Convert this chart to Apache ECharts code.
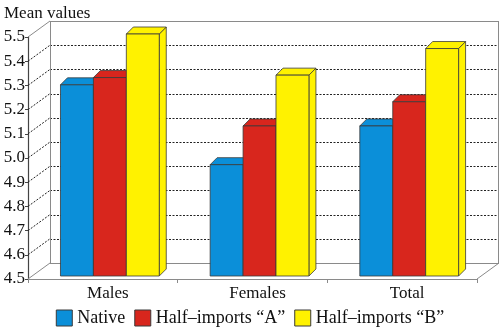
<!DOCTYPE html>
<html>
<head>
<meta charset="utf-8">
<script src="https://cdn.jsdelivr.net/npm/echarts@6/dist/echarts.min.js"></script>
<style>
  html, body { margin: 0; padding: 0; background: #fff; }
  #chart { width: 500px; height: 332px; }
</style>
</head>
<body>
<div id="chart"></div>
<script>
// Mean values by group
const categories = ['Males', 'Females', 'Total'];
const seriesNames = ['Native', 'Half\u2013imports \u201CA\u201D', 'Half\u2013imports \u201CB\u201D'];
const nativeValues = [5.29, 4.96, 5.12];
const halfAValues = [5.32, 5.12, 5.22];
const halfBValues = [5.50, 5.33, 5.44];
const yMin = 4.5;
const yMax = 5.5;
const yStep = 0.1;

const colors = ['#0b8fd9', '#d8261d', '#fff200'];
const FONT = '"Liberation Serif", "DejaVu Serif", serif';
const TEXT = '#111';

// oblique offsets of the 3D look (pixels)
const WALL_DX = 22, WALL_DY = -16;   // back wall behind front plane
const BAR_DD = 7;                    // bar depth
const BAR_LIFT = -3;                 // bars stand slightly behind the front edge

const tickValues = [];
for (let i = 0; i <= Math.round((yMax - yMin) / yStep); i++) {
  tickValues.push(+(yMin + i * yStep).toFixed(1));
}

function crisp(v) { return Math.round(v) + 0.5; }

function renderFrame(params, api) {
  const cs = params.coordSys;
  const left = cs.x, right = cs.x + cs.width;
  const children = [];
  const solid = { stroke: '#8a8a8a', lineWidth: 1, fill: null };
  const dotted = { stroke: '#222', lineWidth: 1, lineDash: [2, 1.5], fill: null };
  tickValues.forEach(function (v, idx) {
    const y = api.coord([0, v])[1];
    const edge = idx === 0 || idx === tickValues.length - 1;
    // diagonal from the front axis to the back wall
    children.push({ type: 'line', shape: { x1: left, y1: y, x2: left + WALL_DX, y2: y + WALL_DY },
      style: edge ? solid : dotted });
    // horizontal line on the back wall
    const yb = crisp(y + WALL_DY);
    children.push({ type: 'line', shape: { x1: left + WALL_DX, y1: yb, x2: right + WALL_DX, y2: yb },
      style: edge ? solid : dotted });
  });
  const yTop = api.coord([0, yMax])[1];
  const yBot = api.coord([0, yMin])[1];
  const xl = crisp(left + WALL_DX), xr = crisp(right + WALL_DX) - 1;
  // wall verticals
  children.push({ type: 'line', shape: { x1: xl, y1: yTop + WALL_DY, x2: xl, y2: yBot + WALL_DY }, style: solid });
  children.push({ type: 'line', shape: { x1: xr, y1: yTop + WALL_DY, x2: xr, y2: yBot + WALL_DY }, style: solid });
  // floor right edge
  children.push({ type: 'line', shape: { x1: right, y1: yBot, x2: right + WALL_DX, y2: yBot + WALL_DY }, style: solid });
  return { type: 'group', children: children };
}

function makeBarRenderer(k) {
  return function (params, api) {
    const i = api.value(0);
    const v = api.value(1);
    const top = api.coord([i, v]);
    const base = api.coord([i, yMin]);
    const band = api.size([1, 0])[0];
    const w = band * 0.22;
    const cx = top[0] + band * 0.047;
    const l = cx - 1.5 * w + k * w;
    const r = l + w;
    const t = top[1] + BAR_LIFT;
    const b = base[1] + BAR_LIFT;
    const d = BAR_DD;
    const color = colors[k];
    const edge = { stroke: '#3a3a3a', lineWidth: 0.8, lineJoin: 'round' };
    return {
      type: 'group',
      children: [
        { type: 'polygon', shape: { points: [[r, t], [r + d, t - d], [r + d, b - d], [r, b]] },
          style: Object.assign({ fill: color }, edge) },
        { type: 'polygon', shape: { points: [[l, t], [l + d, t - d], [r + d, t - d], [r, t]] },
          style: Object.assign({ fill: color }, edge) },
        { type: 'rect', shape: { x: l, y: t, width: w, height: b - t },
          style: Object.assign({ fill: color }, edge) }
      ]
    };
  };
}

const valueSets = [nativeValues, halfAValues, halfBValues];

const chart = echarts.init(document.getElementById('chart'), null, { renderer: 'canvas' });
chart.setOption({
  animation: false,
  backgroundColor: '#fff',
  title: {
    text: 'Mean values', left: -1, top: 0,
    textStyle: { fontFamily: FONT, fontSize: 17, fontWeight: 'normal', color: TEXT }
  },
  legend: {
    bottom: 0, left: 'center',
    itemWidth: 16, itemHeight: 16, itemGap: 9,
    icon: 'rect',
    itemStyle: { borderColor: '#3a3a3a', borderWidth: 1 },
    textStyle: { fontFamily: FONT, fontSize: 18, color: TEXT },
    data: seriesNames
  },
  grid: { left: 28, right: 23, top: 37, bottom: 53 },
  xAxis: {
    type: 'category',
    data: categories,
    axisLine: { show: true, lineStyle: { color: '#8a8a8a', width: 1 } },
    axisTick: { show: true, length: 4, lineStyle: { color: '#8a8a8a' } },
    axisLabel: { fontFamily: FONT, fontSize: 17, color: TEXT, margin: 6, padding: [0, 0, 0, 10] },
    splitLine: { show: false }
  },
  yAxis: {
    type: 'value',
    min: yMin, max: yMax, interval: yStep,
    axisLine: { show: true, lineStyle: { color: '#444', width: 1.2 } },
    axisTick: { show: true, length: 3, lineStyle: { color: '#444' } },
    axisLabel: { fontFamily: FONT, fontSize: 17, color: TEXT, margin: 3,
      formatter: function (v) { return v.toFixed(1); } },
    splitLine: { show: false }
  },
  series: [
    { type: 'custom', name: 'frame', clip: false, silent: true, z: 1,
      renderItem: renderFrame, data: [[0, yMin]] }
  ].concat(valueSets.map(function (vals, k) {
    return {
      type: 'custom', name: seriesNames[k], clip: false, z: 2 + k,
      itemStyle: { color: colors[k] },
      renderItem: makeBarRenderer(k),
      encode: { x: 0, y: 1 },
      data: vals.map(function (v, i) { return [i, v]; })
    };
  }))
});
</script>
</body>
</html>
